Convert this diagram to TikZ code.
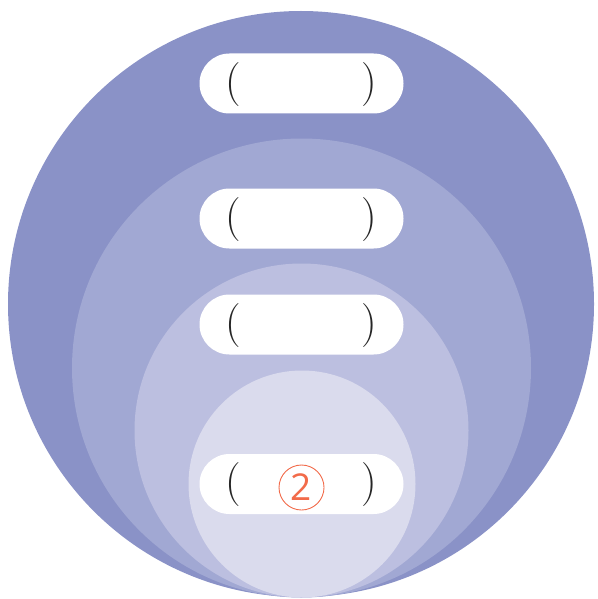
\documentclass[tikz,border=0pt]{standalone}
\usepackage{fontspec}
\newfontfamily\numfont{Open Sans}
\usetikzlibrary{positioning}

\definecolor{ringA}{HTML}{8A92C7}
\definecolor{ringB}{HTML}{A1A8D3}
\definecolor{ringC}{HTML}{BCBFE0}
\definecolor{ringD}{HTML}{DADBED}
\definecolor{numorange}{HTML}{F26B4A}

\tikzset{
  pill/.style={fill=white, rounded corners=30pt, minimum width=204pt, minimum height=60pt, inner sep=0pt},
  paren/.style={font=\fontsize{44}{44}\selectfont, text=black!85, inner sep=0pt},
  circnum/.style={circle, draw=numorange, line width=0.9pt, minimum size=45pt, inner sep=0pt, text=numorange, font=\numfont\fontsize{37}{37}\selectfont}
}

\begin{document}
\begin{tikzpicture}[x=1pt, y=-1pt]

\useasboundingbox (0,0) rectangle (597,599);

% Nested discs, all touching at the bottom
\fill[ringA] (301,304) circle (293pt);
\fill[ringB] (301.5,368) circle (229.5pt);
\fill[ringC] (301.5,430.5) circle (167pt);
\fill[ringD] (302,484) circle (113.5pt);

% White labels, one per disc
\node[pill] (pill1) at (301.5,83.5) {};
\node[pill] (pill2) at (301.5,218.5) {};
\node[pill] (pill3) at (301.5,324.5) {};
\node[pill] (pill4) at (301.5,484) {};

% Brackets inside the labels
\node[paren] (open1) at ([xshift=-68pt, yshift=-1pt]pill1.center) {(};
\node[paren] (close1) at ([xshift=68pt, yshift=-1pt]pill1.center) {)};
\node[paren] (open2) at ([xshift=-68pt, yshift=-1pt]pill2.center) {(};
\node[paren] (close2) at ([xshift=68pt, yshift=-1pt]pill2.center) {)};
\node[paren] (open3) at ([xshift=-68pt, yshift=-1pt]pill3.center) {(};
\node[paren] (close3) at ([xshift=68pt, yshift=-1pt]pill3.center) {)};
\node[paren] (open4) at ([xshift=-68pt, yshift=-1pt]pill4.center) {(};
\node[paren] (close4) at ([xshift=68pt, yshift=-1pt]pill4.center) {)};

% Circled number in the innermost label
\node[circnum] (two) at ([yshift=-3.5pt]pill4.center) {2};

\end{tikzpicture}
\end{document}
